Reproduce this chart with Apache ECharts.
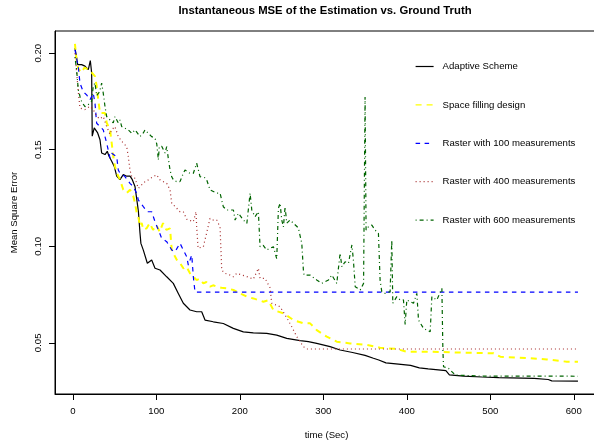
<!DOCTYPE html>
<html>
<head>
<meta charset="utf-8">
<script src="https://cdn.jsdelivr.net/npm/echarts@6/dist/echarts.min.js"></script>
<style>
html,body{margin:0;padding:0;background:#fff;}
#chart{width:594px;height:443px;}
</style>
</head>
<body>
<div id="chart"></div>
<script>
// ---- data (time in seconds, mean square error) ----
const seriesNames = ["Adaptive Scheme", "Space filling design", "Raster with 100 measurements", "Raster with 400 measurements", "Raster with 600 measurements"];
const xTicks = [0, 100, 200, 300, 400, 500, 600];
const yTicks = [0.05, 0.10, 0.15, 0.20];

const adaptive = [[2.5,0.2027],[4,0.199],[5.8,0.1941],[8,0.195],[10.5,0.1941],[12.5,0.1945],[14.5,0.1933],[16.5,0.193],[18.5,0.1915],[20.9,0.1962],[22.5,0.1898],[23.2,0.157],[25.6,0.1613],[29.7,0.1587],[32.5,0.1552],[34.5,0.1483],[38.5,0.1475],[41.2,0.1492],[43.3,0.1466],[46.5,0.144],[49.6,0.1414],[52.5,0.1363],[54.4,0.1371],[56.4,0.1345],[60.4,0.1371],[64.5,0.1363],[68.5,0.1363],[71.2,0.1345],[74.4,0.131],[77.7,0.1207],[78.5,0.118],[80.4,0.1069],[81.5,0.1015],[84.4,0.098],[89.2,0.0912],[94.4,0.0929],[98.4,0.0886],[104.4,0.0877],[112.4,0.0842],[120.3,0.0808],[126.3,0.0756],[132.3,0.0705],[140.3,0.067],[148.3,0.0661],[154.3,0.0661],[158.3,0.0618],[168.2,0.0609],[180.2,0.06],[192.2,0.0575],[204.2,0.0557],[216.2,0.0552],[232.2,0.0549],[244.2,0.054],[256.2,0.0523],[272.2,0.0511],[282.1,0.0506],[292.1,0.0497],[308.1,0.048],[320.1,0.0463],[335,0.045],[350,0.0435],[360,0.042],[366.4,0.0411],[375,0.0396],[390,0.039],[404.5,0.0383],[415,0.037],[425.6,0.0365],[446.8,0.0356],[451,0.0334],[467.9,0.0328],[490,0.0323],[510.2,0.032],[552.5,0.0316],[569.4,0.031],[573.6,0.0303],[605,0.0302]];

const spaceFilling = [[2.5,0.2048],[4.5,0.196],[6.5,0.192],[10,0.19],[14,0.1925],[18.5,0.1915],[22.5,0.19],[26.5,0.188],[28.5,0.183],[30.4,0.176],[32.5,0.169],[38.5,0.169],[40.5,0.164],[44.5,0.1604],[46.5,0.1535],[48.4,0.1466],[50.4,0.1414],[52.5,0.138],[56.4,0.1345],[60.4,0.1293],[64.5,0.1276],[68.5,0.1293],[72.4,0.1259],[74.4,0.1224],[76.5,0.1173],[78.4,0.1153],[80.4,0.1104],[82.4,0.1121],[84.4,0.1086],[88.4,0.1093],[92,0.112],[96,0.1085],[100,0.111],[104,0.1075],[108,0.112],[112,0.1085],[116.4,0.1093],[118.4,0.098],[124.4,0.093],[128,0.0915],[132.3,0.0886],[136,0.0895],[140.3,0.086],[144,0.0845],[148.3,0.0825],[152,0.0832],[156.3,0.0808],[160,0.0815],[164.3,0.0791],[168,0.0798],[172.3,0.0791],[178,0.0785],[184.3,0.0782],[192.3,0.0774],[200.4,0.0756],[208.4,0.0739],[216.2,0.073],[228.2,0.0713],[234,0.072],[240.2,0.067],[252.2,0.0653],[264.2,0.0618],[276.2,0.0601],[284.1,0.0601],[292.1,0.0566],[304.1,0.0532],[316.1,0.0506],[332,0.0497],[352,0.0489],[368,0.0475],[388,0.0468],[400,0.0454],[428,0.0454],[468,0.0449],[504,0.0446],[512,0.0428],[547.8,0.042],[567.8,0.0414],[591.7,0.0402],[605,0.0402]];

const raster100 = [[2.5,0.2019],[4.5,0.197],[6.5,0.193],[8.5,0.1845],[12.5,0.18],[16.5,0.1784],[20.5,0.1758],[24.4,0.1793],[26.5,0.1741],[28.5,0.1637],[32.5,0.162],[36.4,0.1603],[40.5,0.1534],[44.5,0.1457],[46.5,0.1482],[52.5,0.1464],[54.4,0.1395],[56.4,0.1378],[62,0.1363],[68.4,0.1326],[72.4,0.1309],[76.4,0.1275],[78.4,0.124],[84.4,0.1205],[89.2,0.1179],[94.4,0.1179],[98.4,0.1127],[102.4,0.1085],[106.4,0.1041],[112.4,0.1024],[118.4,0.0981],[122.4,0.0972],[128.3,0.1016],[132.3,0.0981],[136.4,0.0946],[138.3,0.0903],[142.4,0.0955],[144.3,0.0842],[146.3,0.0763],[605,0.0763]];

const raster400 = [[2.5,0.2],[4.5,0.19],[6.5,0.18],[8.5,0.1716],[10.5,0.1715],[14.5,0.1708],[16.5,0.1706],[20.5,0.1725],[22.5,0.1723],[24.4,0.1708],[28.5,0.1674],[32,0.166],[36.4,0.1672],[40.5,0.162],[44.5,0.158],[46.5,0.1603],[50.4,0.162],[54.4,0.1568],[56.4,0.1568],[60.4,0.1534],[64.5,0.1516],[66.4,0.1464],[68.4,0.1395],[70.5,0.136],[74.4,0.1352],[78.4,0.13],[80.4,0.1292],[82.4,0.1318],[86.4,0.1335],[90.4,0.1344],[96.4,0.1361],[100.4,0.137],[104.4,0.1344],[108.3,0.1335],[112.4,0.1326],[116.4,0.1292],[118.4,0.1223],[124.4,0.1197],[128.3,0.1179],[132.3,0.1179],[136.4,0.114],[144.3,0.1127],[146.3,0.1119],[147.5,0.1179],[148.3,0.1102],[150,0.099],[152.3,0.0981],[156.3,0.0998],[158.3,0.0998],[160.3,0.107],[164.3,0.1145],[168.2,0.1136],[172.3,0.1136],[176.3,0.11],[178.3,0.0877],[182.3,0.086],[188.3,0.0851],[192.3,0.0842],[196.3,0.086],[208.4,0.0843],[216.2,0.083],[222.2,0.0886],[224.2,0.0834],[230.2,0.0834],[236.2,0.0785],[238.2,0.0705],[248.2,0.0687],[256.2,0.063],[262.2,0.0583],[268.2,0.0532],[276.2,0.048],[280.2,0.0468],[605,0.0468]];

const raster600 = [[2.5,0.198],[4.5,0.1913],[6.5,0.181],[8.5,0.1777],[10.5,0.1749],[14.5,0.1723],[18.5,0.1734],[20.5,0.1732],[22.5,0.1751],[24.4,0.1829],[26.5,0.1846],[28.5,0.178],[30.4,0.1775],[32,0.18],[34.5,0.1845],[36.4,0.1793],[38.5,0.1723],[40.5,0.1672],[44.5,0.1654],[48.4,0.1639],[50.4,0.1672],[54.4,0.1639],[56.4,0.1654],[58.5,0.162],[66.4,0.1603],[70.5,0.1585],[74.4,0.1603],[80.4,0.1568],[84.4,0.1587],[86.4,0.1603],[90.4,0.1585],[94.4,0.1568],[98.4,0.156],[100.5,0.153],[102.4,0.1447],[103.5,0.1516],[106.4,0.1518],[110.4,0.1483],[112.4,0.1516],[114.3,0.1456],[116.4,0.1395],[118.4,0.136],[120.3,0.1345],[124,0.1335],[128.3,0.1335],[132.3,0.1378],[134.3,0.1395],[140.3,0.1378],[144.3,0.1378],[148.3,0.143],[152.3,0.1361],[158,0.1355],[160.3,0.1344],[164.3,0.1292],[172.3,0.1275],[176.3,0.1275],[178.3,0.1283],[180.2,0.1205],[184.3,0.1188],[192.3,0.1188],[194.3,0.1136],[198.3,0.1171],[204.2,0.1136],[208.4,0.1119],[212.3,0.1275],[214.3,0.1188],[218.2,0.1153],[222.2,0.1179],[224.2,0.0998],[228,0.1005],[232.2,0.0981],[240.2,0.0998],[244.2,0.0935],[246.2,0.1197],[248.2,0.1223],[250.2,0.1136],[252.2,0.11],[254.2,0.1205],[256.2,0.112],[260.1,0.1136],[264.2,0.1119],[270.1,0.1095],[274.2,0.1015],[276.2,0.087],[277,0.0851],[284.1,0.0851],[292.1,0.0825],[298.1,0.0808],[306.1,0.0825],[310.2,0.0851],[316.1,0.0808],[320.1,0.0964],[322.2,0.0894],[326.1,0.092],[330.1,0.0912],[334.2,0.1007],[336,0.0929],[338.2,0.0791],[344.2,0.0774],[348.2,0.0808],[349.5,0.0808],[350,0.1773],[351.2,0.1084],[354.2,0.1102],[358.1,0.111],[362,0.1084],[366,0.1067],[368,0.0825],[370,0.0765],[374,0.0756],[380,0.0765],[381.5,0.0765],[382,0.1033],[383.2,0.0705],[388,0.0739],[392,0.0722],[396,0.0722],[398,0.0595],[400,0.0722],[408,0.0705],[412,0.0756],[414,0.0618],[420,0.0575],[428,0.0557],[430,0.0739],[436,0.0722],[442,0.0782],[443.2,0.0463],[444,0.0376],[450,0.0368],[458,0.0333],[488,0.0328],[605,0.0327]];

// ---- chart ----
const FONT = "'Liberation Sans', Arial, Helvetica, sans-serif";
const chart = echarts.init(document.getElementById('chart'), null, {renderer: 'canvas'});

function lineSeries(name, data, color, width, dash, z) {
  return {
    name: name, type: 'line', data: data,
    symbol: 'circle', showSymbol: false, smooth: false, z: z,
    lineStyle: {color: color, width: width, type: dash},
    itemStyle: {color: color},
    emphasis: {disabled: true}
  };
}

const option = {
  animation: false,
  backgroundColor: '#ffffff',
  title: {
    text: 'Instantaneous MSE of the Estimation vs. Ground Truth',
    left: 325, top: 5, textAlign: 'center', padding: 0,
    textStyle: {fontFamily: FONT, fontSize: 11.3, fontWeight: 'bold', color: '#000'}
  },
  legend: {
    orient: 'vertical', left: 415, top: 61.5, padding: 0,
    itemWidth: 18, itemHeight: 10, itemGap: 28.4,
    selectedMode: false,
    itemStyle: {opacity: 0},
    lineStyle: {width: 1.2},
    textStyle: {fontFamily: FONT, fontSize: 9.6, color: '#000', padding: [0, 0, 0, 4]},
    data: seriesNames
  },
  grid: {left: 55, top: 31, width: 543, height: 363, show: true, borderColor: '#000', borderWidth: 1,
    backgroundColor: 'transparent', containLabel: false, outerBoundsMode: 'none'},
  xAxis: {
    type: 'value', min: -21.4, max: 629,
    axisLine: {show: true, onZero: false, lineStyle: {color: '#000', width: 1}},
    splitLine: {show: false},
    axisTick: {show: true, inside: false, customValues: xTicks, length: 6, lineStyle: {color: '#000', width: 1}},
    axisLabel: {customValues: xTicks, margin: 12.5, fontFamily: FONT, fontSize: 9.6, color: '#000'},
    name: 'time (Sec)', nameLocation: 'middle', nameGap: 36.5,
    nameTextStyle: {fontFamily: FONT, fontSize: 9.6, color: '#000'}
  },
  yAxis: {
    type: 'value', min: 0.0235, max: 0.2115,
    axisLine: {show: true, onZero: false, lineStyle: {color: '#000', width: 1}},
    splitLine: {show: false},
    axisTick: {show: true, inside: false, customValues: yTicks, length: 6, lineStyle: {color: '#000', width: 1}},
    axisLabel: {customValues: yTicks, rotate: 90, margin: 12, fontFamily: FONT, fontSize: 9.6, color: '#000',
      formatter: function (v) { return v.toFixed(2); }},
    name: 'Mean Square Error', nameLocation: 'middle', nameGap: 36, nameRotate: 90,
    nameTextStyle: {fontFamily: FONT, fontSize: 9.6, color: '#000'}
  },
  series: [
    lineSeries(seriesNames[0], adaptive, '#000000', 1.2, 'solid', 2),
    lineSeries(seriesNames[1], spaceFilling, '#FFFF00', 2, [6, 5], 3),
    lineSeries(seriesNames[2], raster100, '#0000FF', 1.2, [4.5, 4.5], 4),
    lineSeries(seriesNames[3], raster400, '#A52A2A', 1.2, [1, 3], 5),
    lineSeries(seriesNames[4], raster600, '#006400', 1.2, [1, 3, 4, 3], 6)
  ]
};
chart.setOption(option);
</script>
</body>
</html>
